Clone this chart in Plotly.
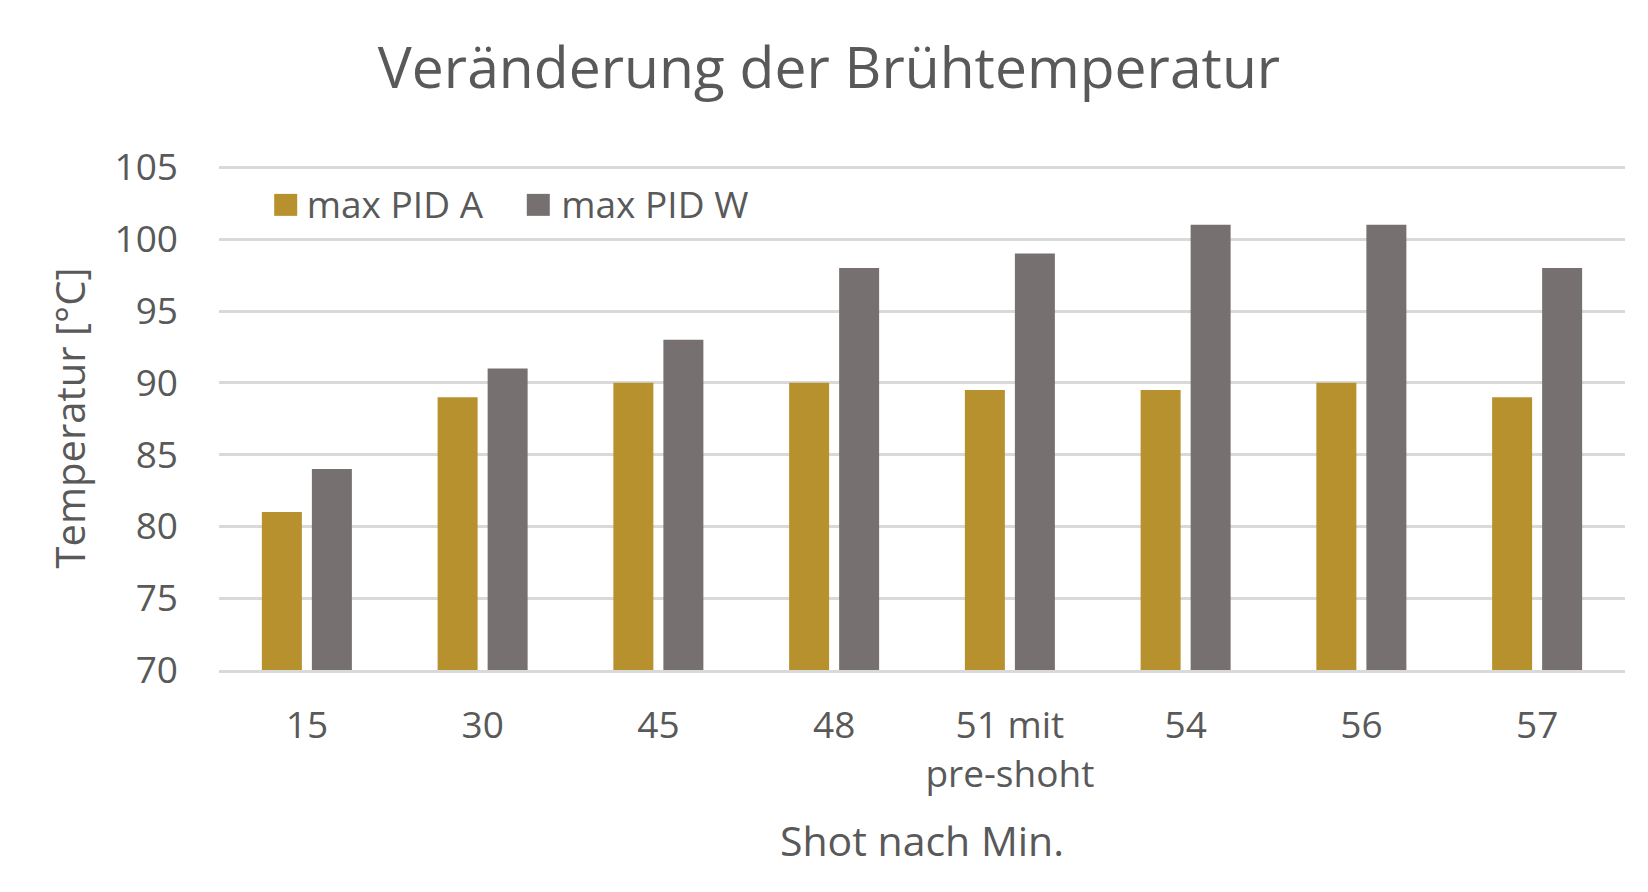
import plotly.graph_objects as go

categories = ["15", "30", "45", "48", "51 mit<br>pre-shoht", "54", "56", "57"]
series_names = ["max PID A", "max PID W"]
max_pid_a = [81, 89, 90, 90, 89.5, 89.5, 90, 89]
max_pid_w = [84, 91, 93, 98, 99, 101, 101, 98]
y_ticks = [70, 75, 80, 85, 90, 95, 100, 105]

FONT = "Open Sans"
TXT = "#595959"
COL_A = "#b8912f"
COL_W = "#767170"
colors = [COL_A, COL_W]

fig = go.Figure()
fig.add_trace(go.Bar(x=categories, y=max_pid_a, name=series_names[0],
                     marker=dict(color=COL_A, line=dict(width=0))))
fig.add_trace(go.Bar(x=categories, y=max_pid_w, name=series_names[1],
                     marker=dict(color=COL_W, line=dict(width=0))))

W, H = 1648, 892
L, R, T, B = 219, 23, 165.6, 222
PW = W - L - R
PH = H - T - B

# larger legend swatches (pixel positions -> paper coordinates)
swatch_px = [(274.2, 297.2), (526.8, 549.8)]
swatch_py = (193.5, 215.5)
for (x0, x1), c in zip(swatch_px, colors):
    fig.add_shape(type="rect", xref="paper", yref="paper",
                  x0=(x0 - L) / PW, x1=(x1 - L) / PW,
                  y0=(H - B - swatch_py[1]) / PH, y1=(H - B - swatch_py[0]) / PH,
                  fillcolor=c, line=dict(width=0), layer="above")

fig.update_layout(
    width=W, height=H,
    margin=dict(l=L, r=R, t=T, b=B, pad=0),
    paper_bgcolor="white", plot_bgcolor="white",
    barmode="group", bargap=0.431, bargroupgap=0.2,
    font=dict(family=FONT, color=TXT, size=37),
    title=dict(text="Veränderung der Brühtemperatur",
               font=dict(family=FONT, size=57, color=TXT),
               x=829 / W, xanchor="center", xref="container",
               y=1 - 68 / H, yanchor="middle", yref="container"),
    legend=dict(orientation="h", x=0.034, xanchor="left", y=0.924, yanchor="middle",
                font=dict(family=FONT, size=37, color=TXT),
                bgcolor="rgba(0,0,0,0)", entrywidth=209.5, entrywidthmode="pixels",
                traceorder="normal"),
    showlegend=True,
)
fig.update_yaxes(range=[70, 105.1], tickvals=y_ticks, ticktext=[str(v) for v in y_ticks],
                 showgrid=True, gridcolor="#d9d9d9", gridwidth=3,
                 zeroline=False, showline=False, ticks="",
                 ticklabelstandoff=40,
                 tickfont=dict(family=FONT, size=37, color=TXT),
                 title=dict(text="Temperatur [°C]", standoff=16,
                            font=dict(family=FONT, size=40, color=TXT)))
fig.update_xaxes(showgrid=False, showline=True, linecolor="#d9d9d9", linewidth=3,
                 ticks="", ticklabelstandoff=21,
                 tickfont=dict(family=FONT, size=37, color=TXT),
                 title=dict(text="Shot nach Min.", standoff=31,
                            font=dict(family=FONT, size=41, color=TXT)))

fig.write_html("out.html", config={"displayModeBar": False},
               post_script="document.body.style.margin='0';document.body.style.padding='0';")
